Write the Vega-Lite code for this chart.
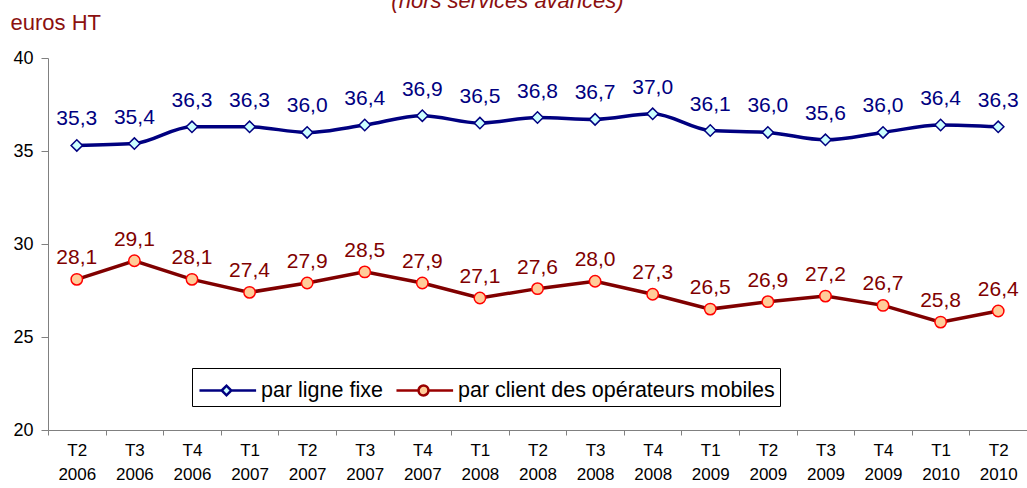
{
  "$schema": "https://vega.github.io/schema/vega-lite/v6.json",
  "width": 979,
  "height": 372,
  "autosize": {"type": "none"},
  "padding": {"left": 48, "top": 58, "right": 0, "bottom": 58},
  "background": "white",
  "title": {
    "text": "(hors services avancés)",
    "fontSize": 22,
    "fontStyle": "italic",
    "fontWeight": "normal",
    "font": "Liberation Sans",
    "color": "#8B1010",
    "anchor": "middle",
    "dx": -30,
    "offset": -19,
    "baseline": "alphabetic"
  },
  "config": {
    "locale": {"number": {"decimal": ",", "thousands": " ", "grouping": [3], "currency": ["", " €"]}},
    "font": "Liberation Sans",
    "view": {"stroke": null},
    "legend": {
      "title": null,
      "orient": "none",
      "legendX": 144,
      "legendY": 310,
      "direction": "horizontal",
      "padding": 5,
      "strokeColor": "#000000",
      "fillColor": "#ffffff",
      "labelFontSize": 21.5,
      "labelColor": "#000000",
      "labelLimit": 600,
      "labelOffset": 29,
      "columnPadding": 8,
      "symbolSize": 1024,
      "symbolStrokeWidth": 2.5,
      "symbolOpacity": 1
    }
  },
  "data": {
    "values": [
      {"q": "T2 2006", "series": "par ligne fixe", "v": 35.3},
      {"q": "T3 2006", "series": "par ligne fixe", "v": 35.4},
      {"q": "T4 2006", "series": "par ligne fixe", "v": 36.3},
      {"q": "T1 2007", "series": "par ligne fixe", "v": 36.3},
      {"q": "T2 2007", "series": "par ligne fixe", "v": 36.0},
      {"q": "T3 2007", "series": "par ligne fixe", "v": 36.4},
      {"q": "T4 2007", "series": "par ligne fixe", "v": 36.9},
      {"q": "T1 2008", "series": "par ligne fixe", "v": 36.5},
      {"q": "T2 2008", "series": "par ligne fixe", "v": 36.8},
      {"q": "T3 2008", "series": "par ligne fixe", "v": 36.7},
      {"q": "T4 2008", "series": "par ligne fixe", "v": 37.0},
      {"q": "T1 2009", "series": "par ligne fixe", "v": 36.1},
      {"q": "T2 2009", "series": "par ligne fixe", "v": 36.0},
      {"q": "T3 2009", "series": "par ligne fixe", "v": 35.6},
      {"q": "T4 2009", "series": "par ligne fixe", "v": 36.0},
      {"q": "T1 2010", "series": "par ligne fixe", "v": 36.4},
      {"q": "T2 2010", "series": "par ligne fixe", "v": 36.3},
      {"q": "T2 2006", "series": "par client des opérateurs mobiles", "v": 28.1},
      {"q": "T3 2006", "series": "par client des opérateurs mobiles", "v": 29.1},
      {"q": "T4 2006", "series": "par client des opérateurs mobiles", "v": 28.1},
      {"q": "T1 2007", "series": "par client des opérateurs mobiles", "v": 27.4},
      {"q": "T2 2007", "series": "par client des opérateurs mobiles", "v": 27.9},
      {"q": "T3 2007", "series": "par client des opérateurs mobiles", "v": 28.5},
      {"q": "T4 2007", "series": "par client des opérateurs mobiles", "v": 27.9},
      {"q": "T1 2008", "series": "par client des opérateurs mobiles", "v": 27.1},
      {"q": "T2 2008", "series": "par client des opérateurs mobiles", "v": 27.6},
      {"q": "T3 2008", "series": "par client des opérateurs mobiles", "v": 28.0},
      {"q": "T4 2008", "series": "par client des opérateurs mobiles", "v": 27.3},
      {"q": "T1 2009", "series": "par client des opérateurs mobiles", "v": 26.5},
      {"q": "T2 2009", "series": "par client des opérateurs mobiles", "v": 26.9},
      {"q": "T3 2009", "series": "par client des opérateurs mobiles", "v": 27.2},
      {"q": "T4 2009", "series": "par client des opérateurs mobiles", "v": 26.7},
      {"q": "T1 2010", "series": "par client des opérateurs mobiles", "v": 25.8},
      {"q": "T2 2010", "series": "par client des opérateurs mobiles", "v": 26.4}
    ]
  },
  "encoding": {
    "x": {
      "field": "q",
      "type": "ordinal",
      "sort": null,
      "scale": {"type": "band", "paddingInner": 0, "paddingOuter": 0},
      "axis": {
        "title": null,
        "labelAngle": 0,
        "labelExpr": "split(datum.label, ' ')",
        "labelFontSize": 17,
        "labelColor": "#000000",
        "labelLineHeight": 24,
        "labelPadding": 7,
        "labelBaseline": "top",
        "tickBand": "extent",
        "tickSize": 5,
        "tickColor": "#808080",
        "domainColor": "#808080",
        "grid": false
      }
    },
    "y": {
      "field": "v",
      "type": "quantitative",
      "scale": {"domain": [20, 40], "nice": false, "zero": false},
      "axis": {
        "values": [20, 25, 30, 35, 40],
        "grid": false,
        "labelFontSize": 18,
        "labelColor": "#000000",
        "labelPadding": 8,
        "tickSize": 7,
        "tickColor": "#808080",
        "domainColor": "#808080",
        "title": "euros HT",
        "titleAngle": 0,
        "titleX": -38,
        "titleY": -36,
        "titleAlign": "left",
        "titleBaseline": "middle",
        "titleFontSize": 22,
        "titleFontWeight": "normal",
        "titleColor": "#8B1010"
      }
    },
    "color": {
      "field": "series",
      "type": "nominal",
      "scale": {"domain": ["par ligne fixe", "par client des opérateurs mobiles"], "range": ["#000080", "#800000"]},
      "legend": null
    }
  },
  "layer": [
    {
      "transform": [{"filter": "datum.series === 'par ligne fixe'"}],
      "mark": {"type": "line", "interpolate": "monotone", "strokeWidth": 3.5}
    },
    {
      "transform": [{"filter": "datum.series !== 'par ligne fixe'"}],
      "mark": {"type": "line", "strokeWidth": 3.5}
    },
    {
      "mark": {"type": "point", "filled": false, "size": 130, "strokeWidth": 1.5, "opacity": 1},
      "encoding": {
        "shape": {"field": "series", "type": "nominal", "scale": {"domain": ["par ligne fixe", "par client des opérateurs mobiles"], "range": ["diamond", "circle"]}, "legend": null},
        "fill": {"field": "series", "type": "nominal", "scale": {"domain": ["par ligne fixe", "par client des opérateurs mobiles"], "range": ["#ccffff", "#ffcc99"]}, "legend": null},
        "stroke": {"field": "series", "type": "nominal", "scale": {"domain": ["par ligne fixe", "par client des opérateurs mobiles"], "range": ["#000080", "#ff0000"]}, "legend": null}
      }
    },
    {
      "transform": [{"filter": "false"}],
      "mark": {"type": "point", "filled": false, "size": 1024, "strokeWidth": 2.5, "opacity": 1},
      "encoding": {
        "shape": {"field": "series", "type": "nominal", "scale": {"domain": ["par ligne fixe", "par client des opérateurs mobiles"], "range": ["M-0.94,0L0.45,0M1.05,0L2.6,0M0.45,0L0.75,-0.3L1.05,0L0.75,0.3Z", "M-0.94,0L0.44,0M1.06,0L2.6,0M1.06,0A0.31,0.31 0 1,1 0.44,0A0.31,0.31 0 1,1 1.06,0Z"]}, "legend": {}},
        "fill": {"field": "series", "type": "nominal", "scale": {"domain": ["par ligne fixe", "par client des opérateurs mobiles"], "range": ["#ccffff", "#ffcc99"]}, "legend": {}},
        "stroke": {"field": "series", "type": "nominal", "scale": {"domain": ["par ligne fixe", "par client des opérateurs mobiles"], "range": ["#000080", "#990000"]}, "legend": {}}
      }
    },
    {
      "transform": [{"filter": "datum.series === 'par ligne fixe'"}],
      "mark": {"type": "text", "fontSize": 21, "dy": -20, "baseline": "alphabetic", "align": "center"},
      "encoding": {"text": {"field": "v", "type": "quantitative", "format": ".1f"}}
    },
    {
      "transform": [{"filter": "datum.series !== 'par ligne fixe'"}],
      "mark": {"type": "text", "fontSize": 21, "dy": -15, "baseline": "alphabetic", "align": "center"},
      "encoding": {"text": {"field": "v", "type": "quantitative", "format": ".1f"}}
    }
  ],
  "resolve": {"scale": {"fill": "independent", "stroke": "independent", "shape": "independent"}}
}
